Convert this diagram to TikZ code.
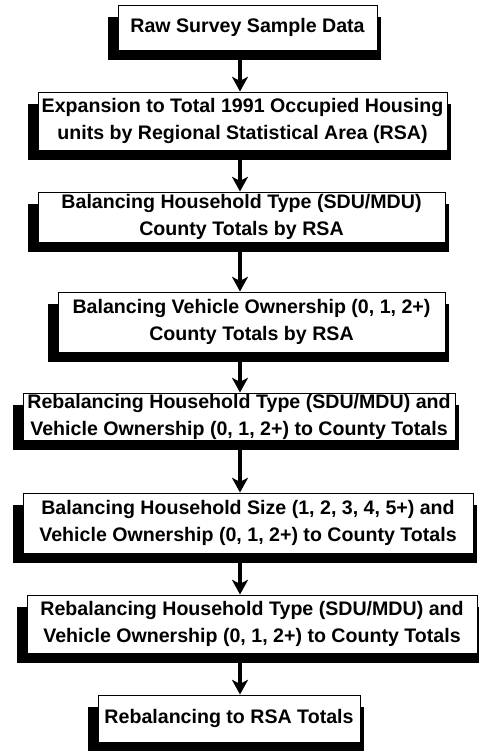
\documentclass[tikz,border=0pt]{standalone}
\usepackage{fontspec}
\setmainfont{Liberation Sans}
\usetikzlibrary{arrows.meta,backgrounds}

\begin{document}
\begin{tikzpicture}[x=0.75pt,y=0.75pt,yscale=-1,xscale=1,
  stage/.style={draw, fill=white, line width=0.75pt, align=center, inner sep=0pt,
    font=\fontsize{14.7}{20.25}\selectfont\bfseries},
  flow/.style={line width=2.5pt, -{Stealth[length=11pt,width=12pt,inset=3pt]}}]
\useasboundingbox (0,0) rectangle (479,751);
\coordinate (axis) at (240,0);

% Text Node
\node[stage, minimum width=259*0.75pt, minimum height=45*0.75pt] (raw) at (247.5,27.5) {Raw Survey Sample Data};
% Text Node
\node[stage, minimum width=409*0.75pt, minimum height=58*0.75pt] (expand) at (242.5,121) {Expansion to Total 1991 Occupied Housing\\units by Regional Statistical Area (RSA)};
% Text Node
\node[stage, minimum width=407*0.75pt, minimum height=50*0.75pt] (hhtype) at (241.5,217) {Balancing Household Type (SDU/MDU)\\County Totals by RSA};
% Text Node
\node[stage, minimum width=387*0.75pt, minimum height=60*0.75pt] (vehown) at (251.5,322) {Balancing Vehicle Ownership (0, 1, 2+)\\County Totals by RSA};
% Text Node
\node[stage, minimum width=432*0.75pt, minimum height=47*0.75pt] (rebalA) at (239,416.5) {Rebalancing Household Type (SDU/MDU) and\\Vehicle Ownership (0, 1, 2+) to County Totals};
% Text Node
\node[stage, minimum width=450*0.75pt, minimum height=60*0.75pt] (hhsize) at (248,523) {Balancing Household Size (1, 2, 3, 4, 5+) and\\Vehicle Ownership (0, 1, 2+) to County Totals};
% Text Node
\node[stage, minimum width=450*0.75pt, minimum height=58*0.75pt] (rebalB) at (252,624) {Rebalancing Household Type (SDU/MDU) and\\Vehicle Ownership (0, 1, 2+) to County Totals};
% Text Node
\node[stage, minimum width=262*0.75pt, minimum height=47*0.75pt] (rsatot) at (229,718.5) {Rebalancing to RSA Totals};

%Shadows
\begin{scope}[on background layer]
\foreach \b in {raw,expand,hhtype,vehown,rebalA,hhsize,rebalB,rsatot}
  \fill ([shift={(-10,12)}]\b.north west) rectangle ([shift={(3,9)}]\b.south east);
\end{scope}

%Straight Lines
\draw[flow] (raw.south -| axis) -- (expand.north -| axis);
\draw[flow] (expand.south -| axis) -- (hhtype.north -| axis);
\draw[flow] (hhtype.south -| axis) -- (vehown.north -| axis);
\draw[flow] (vehown.south -| axis) -- (rebalA.north -| axis);
\draw[flow] (rebalA.south -| axis) -- (hhsize.north -| axis);
\draw[flow] (hhsize.south -| axis) -- (rebalB.north -| axis);
\draw[flow] (rebalB.south -| axis) -- (rsatot.north -| axis);

\end{tikzpicture}
\end{document}
